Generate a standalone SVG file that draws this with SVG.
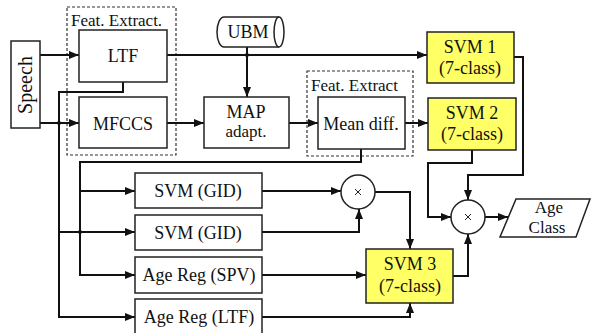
<svg xmlns="http://www.w3.org/2000/svg" width="592" height="333" viewBox="0 0 592 333" font-family="'Liberation Serif', 'Times New Roman', serif">
<defs>
<marker id="ah" viewBox="0 0 10 8" refX="10" refY="4" markerWidth="10" markerHeight="8" markerUnits="userSpaceOnUse" orient="auto">
<path d="M0,0 L10,4 L0,8 z" fill="#111"/>
</marker>
<style>
.b{fill:#fff;stroke:#222;stroke-width:1.5}
.y{fill:#ffff66;stroke:#222;stroke-width:1.5}
.d{fill:none;stroke:#333;stroke-width:1.2;stroke-dasharray:3,2}
text{font-family:'Liberation Serif','Times New Roman',serif}
.t{font-size:18px;fill:#111;text-anchor:middle}
.h{font-size:17px;fill:#111}
.x{stroke:#222;stroke-width:1;fill:none}
.a{fill:none;stroke:#111;stroke-width:2;marker-end:url(#ah)}
.dot{fill:#111}
</style>
</defs>
<rect width="592" height="333" fill="#fff"/>

<g id="feat1">
<rect class="d" x="67" y="7" width="109" height="148"/>
<text class="h" x="71" y="26">Feat. Extract.</text>
</g>
<g id="feat2">
<rect class="d" x="307" y="71" width="106" height="85"/>
<text class="h" x="311" y="91">Feat. Extract</text>
</g>

<g id="connectors">
<path class="a" d="M40,55 H79"/>
<path class="a" d="M40,123 H79"/>
<path class="a" d="M167,55 H427"/>
<path class="a" d="M247,47 V97"/>
<path class="a" d="M167,123 H204"/>
<path class="a" d="M289,123 H318"/>
<path class="a" d="M405,123 H428"/>
<path class="a" d="M123,82 V92 H59 V317 H135"/>
<path class="a" d="M59,232 H135"/>
<path class="a" d="M361,149 V162 H80 V275 H135"/>
<path class="a" d="M80,191 H135"/>
<path class="a" d="M262,191 H341"/>
<path class="a" d="M262,232 H359 V209"/>
<path class="a" d="M375,192 H410 V249"/>
<path class="a" d="M262,275 H366"/>
<path class="a" d="M262,317 H410 V303"/>
<path class="a" d="M453,276 H468 V234"/>
<path class="a" d="M472,150 V163 H428 V217 H451"/>
<path class="a" d="M514,57 H523 V175 H468 V200"/>
<path class="a" d="M485,217 H508"/>
<circle class="dot" cx="247" cy="55" r="2"/>
<circle class="dot" cx="59" cy="123" r="2"/>
<circle class="dot" cx="80" cy="232" r="2"/>
</g>

<g id="speech">
<rect class="b" x="11" y="41" width="29" height="87"/>
<text class="t" transform="translate(32,85) rotate(-90)" style="font-size:20px">Speech</text>
</g>
<g id="ltf">
<rect class="b" x="79" y="30" width="88" height="52"/>
<text class="t" x="123" y="62">LTF</text>
</g>
<g id="mfccs">
<rect class="b" x="79" y="97" width="88" height="51"/>
<text class="t" x="123" y="130">MFCCS</text>
</g>
<g id="ubm">
<path class="b" d="M224,17 H279 A5,15 0 0 1 279,47 H224 A7,15 0 0 1 224,17 Z"/>
<path fill="none" stroke="#222" stroke-width="1.5" d="M279,17 A5,15 0 0 0 279,47"/>
<text class="t" x="248" y="38">UBM</text>
</g>
<g id="map">
<rect class="b" x="204" y="97" width="85" height="51"/>
<text class="t" x="246" y="118">MAP</text>
<text class="t" x="246" y="137" style="font-size:17px">adapt.</text>
</g>
<g id="meandiff">
<rect class="b" x="318" y="97" width="87" height="52"/>
<text class="t" x="361" y="130">Mean diff.</text>
</g>
<g id="svm1">
<rect class="y" x="427" y="32" width="87" height="51"/>
<text class="t" x="470" y="53">SVM 1</text>
<text class="t" x="470" y="74">(7-class)</text>
</g>
<g id="svm2">
<rect class="y" x="428" y="98" width="88" height="52"/>
<text class="t" x="472" y="119">SVM 2</text>
<text class="t" x="472" y="140">(7-class)</text>
</g>
<g id="svmgid1">
<rect class="b" x="135" y="173" width="127" height="35"/>
<text class="t" x="198" y="197">SVM (GID)</text>
</g>
<g id="svmgid2">
<rect class="b" x="135" y="215" width="127" height="35"/>
<text class="t" x="198" y="239">SVM (GID)</text>
</g>
<g id="agespv">
<rect class="b" x="135" y="257" width="127" height="36"/>
<text class="t" x="199" y="281">Age Reg (SPV)</text>
</g>
<g id="ageltf">
<rect class="b" x="135" y="299" width="127" height="37"/>
<text class="t" x="199" y="323">Age Reg (LTF)</text>
</g>
<g id="mult1">
<circle class="b" cx="358" cy="192" r="17"/>
<path class="x" d="M355,189 L361,195 M361,189 L355,195"/>
</g>
<g id="svm3">
<rect class="y" x="366" y="249" width="87" height="54"/>
<text class="t" x="410" y="270">SVM 3</text>
<text class="t" x="410" y="292">(7-class)</text>
</g>
<g id="mult2">
<circle class="b" cx="468" cy="217" r="17"/>
<path class="x" d="M465,214 L471,220 M471,214 L465,220"/>
</g>
<g id="ageclass">
<polygon class="b" points="516,199 590,199 576,237 500,237"/>
<text class="t" x="549" y="213" style="font-size:17px">Age</text>
<text class="t" x="547" y="233" style="font-size:17px">Class</text>
</g>
</svg>
